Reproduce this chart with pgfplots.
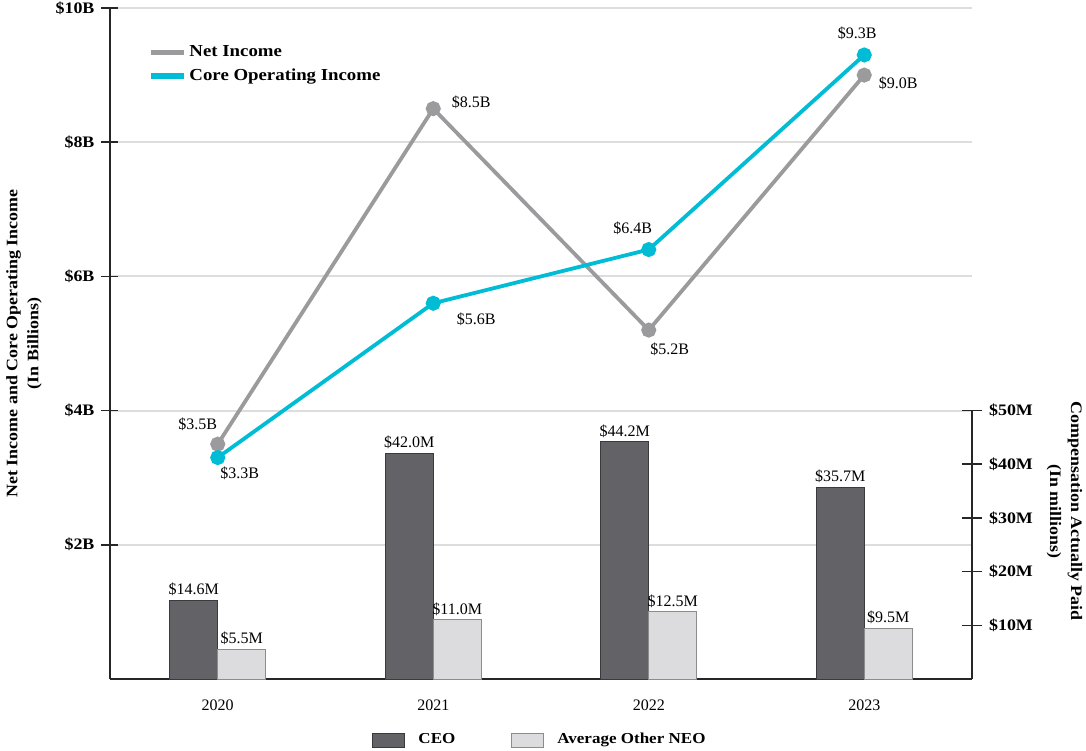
\documentclass[border=0pt]{standalone}
\usepackage{fontspec}
\setmainfont{Liberation Serif}
\newfontfamily\wb[FakeStretch=1.12]{Liberation Serif}
\usepackage{pgfplots}
\pgfplotsset{compat=1.18}
\definecolor{ceo}{HTML}{636367}
\definecolor{ceoedge}{HTML}{3A3A3C}
\definecolor{neo}{HTML}{DCDCDE}
\definecolor{neoedge}{HTML}{8C8C8E}
\definecolor{netinc}{HTML}{9B9B9D}
\definecolor{core}{HTML}{00BCD4}
\definecolor{gridc}{HTML}{DDDDDD}
\newcommand{\lblfont}{\fontsize{8}{9.5}\selectfont}
\newcommand{\tickfont}{\wb\bfseries\fontsize{8}{9.5}\selectfont}
\newcommand{\labfont}{\wb\bfseries\fontsize{8}{10.5}\selectfont}
\begin{document}
\begin{tikzpicture}
\useasboundingbox (-55pt,-35.5pt) rectangle (488pt,339.5pt);
% ---------- left axis: incomes ----------
\begin{axis}[
  scale only axis, width=431pt, height=335.5pt,
  at={(0pt,0pt)}, anchor=south west,
  xmin=-0.5, xmax=3.5, ymin=0, ymax=10,
  axis x line*=bottom, axis y line*=left,
  axis line style={-, line width=0.9pt, black!85},
  xtick={0,1,2,3}, xticklabels={2020,2021,2022,2023},
  xtick style={draw=none},
  xticklabel style={font=\lblfont, yshift=-2.5pt},
  ytick={2,4,6,8,10},
  yticklabels={\$2B,\$4B,\$6B,\$8B,\$10B},
  yticklabel style={font=\tickfont},
  ytick style={black!85, line width=0.8pt},
  tick align=center, major tick length=8.5pt,
  ymajorgrids, grid style={gridc, line width=1pt},
  ylabel={Net Income and Core Operating Income\\(In Billions)},
  ylabel style={font=\labfont, align=center},
  legend style={at={(0.037,0.955)}, anchor=north west, draw=none, fill=none,
    font=\wb\bfseries\fontsize{8.4}{10}\selectfont, row sep=1.5pt,
    nodes={inner sep=1.5pt}},
  legend cell align=left,
  legend image code/.code={\draw[#1, line width=2.6pt] (0pt,0pt) -- (16.5pt,0pt);},
]
\addplot[netinc, line width=1.9pt, mark=*, mark size=2.8pt, mark options={solid, fill=netinc, draw=netinc}]
  coordinates {(0,3.5) (1,8.5) (2,5.2) (3,9.0)};
\addlegendentry{Net Income}
\addplot[core, line width=1.9pt, mark=*, mark size=2.8pt, mark options={solid, fill=core, draw=core}]
  coordinates {(0,3.3) (1,5.6) (2,6.4) (3,9.3)};
\addlegendentry{Core Operating Income}
% value labels
\node[font=\lblfont, xshift=-10pt, yshift=10pt] at (axis cs:0,3.5) {\$3.5B};
\node[font=\lblfont, xshift=19pt, yshift=3pt] at (axis cs:1,8.5) {\$8.5B};
\node[font=\lblfont, xshift=10.5pt, yshift=-9.5pt] at (axis cs:2,5.2) {\$5.2B};
\node[font=\lblfont, xshift=17pt, yshift=-4pt] at (axis cs:3,9.0) {\$9.0B};
\node[font=\lblfont, xshift=11pt, yshift=-8pt] at (axis cs:0,3.3) {\$3.3B};
\node[font=\lblfont, xshift=21.5pt, yshift=-8pt] at (axis cs:1,5.6) {\$5.6B};
\node[font=\lblfont, xshift=-8pt, yshift=10.5pt] at (axis cs:2,6.4) {\$6.4B};
\node[font=\lblfont, xshift=-3.5pt, yshift=11pt] at (axis cs:3,9.3) {\$9.3B};
\end{axis}
% ---------- right axis: compensation ----------
\begin{axis}[
  scale only axis, width=431pt, height=134.2pt,
  at={(0pt,0pt)}, anchor=south west,
  xmin=-0.5, xmax=3.5, ymin=0, ymax=50,
  axis x line=none, axis y line*=right,
  axis line style={-, line width=0.9pt, black!85},
  ytick={10,20,30,40,50},
  yticklabels={\$10M,\$20M,\$30M,\$40M,\$50M},
  yticklabel style={font=\tickfont},
  ytick style={black!85, line width=0.8pt},
  tick align=center, major tick length=10pt,
  ylabel={Compensation Actually Paid\\(In millions)},
  ylabel style={font=\labfont, align=center, rotate=180, at={(ticklabel cs:0.625)}},
  legend columns=2,
  legend style={at={(0.5,-0.228)}, anchor=center, draw=none, fill=none,
    font=\wb\bfseries\fontsize{7.6}{9}\selectfont,
    /tikz/every odd column/.append style={column sep=4.5pt},
    /tikz/every even column/.append style={column sep=26pt},
    nodes={inner sep=2pt}},
]
\addplot[ybar, bar width=0.2225, bar shift=-0.11125, fill=ceo, draw=ceoedge, line width=0.5pt,
  nodes near coords, point meta=explicit symbolic,
  every node near coord/.append style={font=\lblfont, text=black, inner sep=2pt, xshift=-12pt},
  forget plot]
  coordinates {(0,14.6) [\$14.6M] (1,42.0) [\$42.0M] (2,44.2) [\$44.2M] (3,35.7) [\$35.7M]};
\addplot[ybar, bar width=0.2225, bar shift=0.11125, fill=neo, draw=neoedge, line width=0.5pt,
  nodes near coords, point meta=explicit symbolic,
  every node near coord/.append style={font=\lblfont, text=black, inner sep=2pt, xshift=12pt},
  forget plot]
  coordinates {(0,5.5) [\$5.5M] (1,11.0) [\$11.0M] (2,12.5) [\$12.5M] (3,9.5) [\$9.5M]};
\addlegendimage{legend image code/.code={\draw[fill=ceo, draw=ceoedge, line width=0.5pt] (0pt,-3.5pt) rectangle (16pt,3.5pt);}}
\addlegendentry{CEO}
\addlegendimage{legend image code/.code={\draw[fill=neo, draw=neoedge, line width=0.5pt] (0pt,-3.5pt) rectangle (16pt,3.5pt);}}
\addlegendentry{Average Other NEO}
\end{axis}
\end{tikzpicture}
\end{document}
